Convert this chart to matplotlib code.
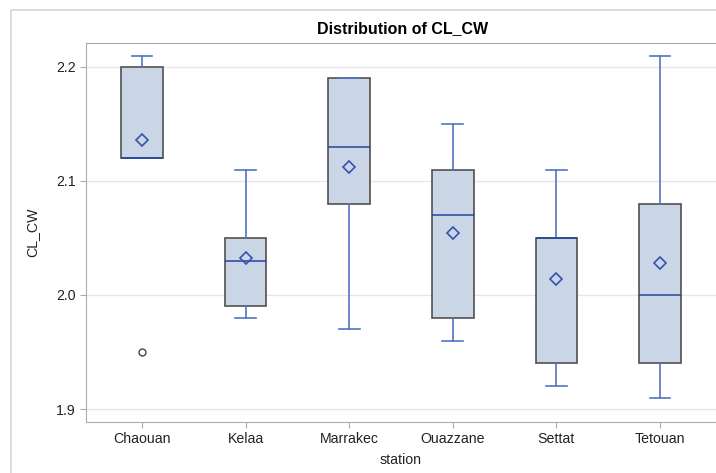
import matplotlib.pyplot as plt
from matplotlib.patches import Rectangle

stations = ["Chaouan", "Kelaa", "Marrakec", "Ouazzane", "Settat", "Tetouan"]
w_low = [2.12, 1.98, 1.97, 1.96, 1.92, 1.91]
q1 = [2.12, 1.99, 2.08, 1.98, 1.94, 1.94]
med = [2.12, 2.03, 2.13, 2.07, 2.05, 2.00]
q3 = [2.20, 2.05, 2.19, 2.11, 2.05, 2.08]
w_high = [2.21, 2.11, 2.19, 2.15, 2.11, 2.21]
means = [2.136, 2.032, 2.112, 2.054, 2.014, 2.028]
outliers = [[1.95], [], [], [], [], []]

plt.rcParams['font.family'] = ['Liberation Sans', 'DejaVu Sans']

stats = []
for i, s in enumerate(stations):
    stats.append(dict(label=s, whislo=w_low[i], q1=q1[i], med=med[i], q3=q3[i],
                      whishi=w_high[i], mean=means[i], fliers=outliers[i]))

fig = plt.figure(figsize=(7.16, 4.73), dpi=100)
# outer frame (cropped on the right like the screenshot)
fig.patches.append(Rectangle((11 / 716, -0.1), 1.1, (473 - 10) / 473 + 0.1,
                             transform=fig.transFigure, fill=False,
                             edgecolor='#d4d6dc', lw=1.2))
ax = fig.add_axes([86 / 716, 51 / 473, 630 / 716, 379 / 473])

blue = '#5373c4'
ax.bxp(stats, positions=range(len(stations)), widths=0.4, capwidths=0.2,
       showmeans=True, patch_artist=True,
       boxprops=dict(facecolor='#cad5e5', edgecolor='#505050', lw=1.2),
       whiskerprops=dict(color=blue, lw=1.2),
       capprops=dict(color=blue, lw=1.2),
       medianprops=dict(color='#24439a', lw=1.1),
       meanprops=dict(marker='D', markerfacecolor='none', markeredgecolor='#3553b0',
                      markersize=6.5, markeredgewidth=1.2),
       flierprops=dict(marker='o', markerfacecolor='none', markeredgecolor='#444444',
                       markersize=5, markeredgewidth=1.0))

ax.set_xlim(-0.54, 5.54)
ax.set_ylim(1.8886, 2.221)
ax.set_yticks([1.9, 2.0, 2.1, 2.2])
ax.set_yticklabels(['1.9', '2.0', '2.1', '2.2'])
ax.yaxis.grid(True, color='#e6e6e6', lw=1)
ax.set_axisbelow(True)
for sp in ax.spines.values():
    sp.set_color('#a8acb4')
ax.spines['right'].set_visible(False)
ax.tick_params(colors='#a8acb4', labelcolor='#222222', labelsize=10.2, length=4)

ax.set_xlabel('station', fontsize=10.2, color='#222222', labelpad=5)
ax.set_ylabel('CL_CW', fontsize=10.2, color='#222222', labelpad=12)
fig.text(403 / 716, 1 - 29 / 473, 'Distribution of CL_CW', ha='center', va='center',
         fontsize=11.5, fontweight='bold')

plt.savefig('out.png', dpi=100)
